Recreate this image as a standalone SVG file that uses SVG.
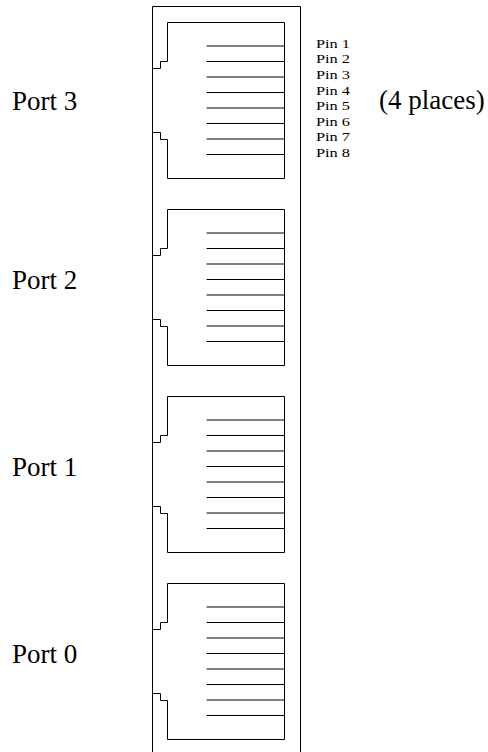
<svg xmlns="http://www.w3.org/2000/svg" width="488" height="752" viewBox="0 0 488 752">
<style>
.ln{fill:none;stroke:#000;stroke-width:1}
.big{font-family:"Liberation Serif","Times New Roman",serif;font-size:27px;fill:#000}
.pin{font-family:"Liberation Serif","Times New Roman",serif;font-size:13px;fill:#000}
</style>
<defs>
<g id="jack">
<path class="ln" d="M284.5,0 H167.5 V39 H160.5 V46 H152.5 M152.5,110 H160.5 V117 H167.5 V156 H284.5 V0"/>
<path class="ln" d="M206.5,23.5 H284.5 M206.5,39 H284.5 M206.5,54.5 H284.5 M206.5,70 H284.5 M206.5,85.5 H284.5 M206.5,101 H284.5 M206.5,116.5 H284.5 M206.5,132 H284.5"/>
</g>
</defs>
<rect width="488" height="752" fill="#fff"/>
<g id="housing">
<path class="ln" d="M152.5,760 V6.5 H300.5 V760"/>
</g>
<g id="port3">
<use href="#jack" transform="translate(0,22.5)"/>
<text class="big" x="12" y="110">Port 3</text>
</g>
<g id="port2">
<use href="#jack" transform="translate(0,209.5)"/>
<text class="big" x="12" y="289">Port 2</text>
</g>
<g id="port1">
<use href="#jack" transform="translate(0,396.5)"/>
<text class="big" x="12" y="476">Port 1</text>
</g>
<g id="port0">
<use href="#jack" transform="translate(0,583.5)"/>
<text class="big" x="12" y="663">Port 0</text>
</g>
<g id="pinlabels">
<text class="pin" x="316" y="47.8" textLength="34" lengthAdjust="spacingAndGlyphs">Pin 1</text>
<text class="pin" x="316" y="63.4" textLength="34" lengthAdjust="spacingAndGlyphs">Pin 2</text>
<text class="pin" x="316" y="79" textLength="34" lengthAdjust="spacingAndGlyphs">Pin 3</text>
<text class="pin" x="316" y="94.6" textLength="34" lengthAdjust="spacingAndGlyphs">Pin 4</text>
<text class="pin" x="316" y="110.2" textLength="34" lengthAdjust="spacingAndGlyphs">Pin 5</text>
<text class="pin" x="316" y="125.8" textLength="34" lengthAdjust="spacingAndGlyphs">Pin 6</text>
<text class="pin" x="316" y="141.4" textLength="34" lengthAdjust="spacingAndGlyphs">Pin 7</text>
<text class="pin" x="316" y="157" textLength="34" lengthAdjust="spacingAndGlyphs">Pin 8</text>
</g>
<g id="note">
<text class="big" x="379" y="109">(4 places)</text>
</g>
<g id="connectors"/>
</svg>
